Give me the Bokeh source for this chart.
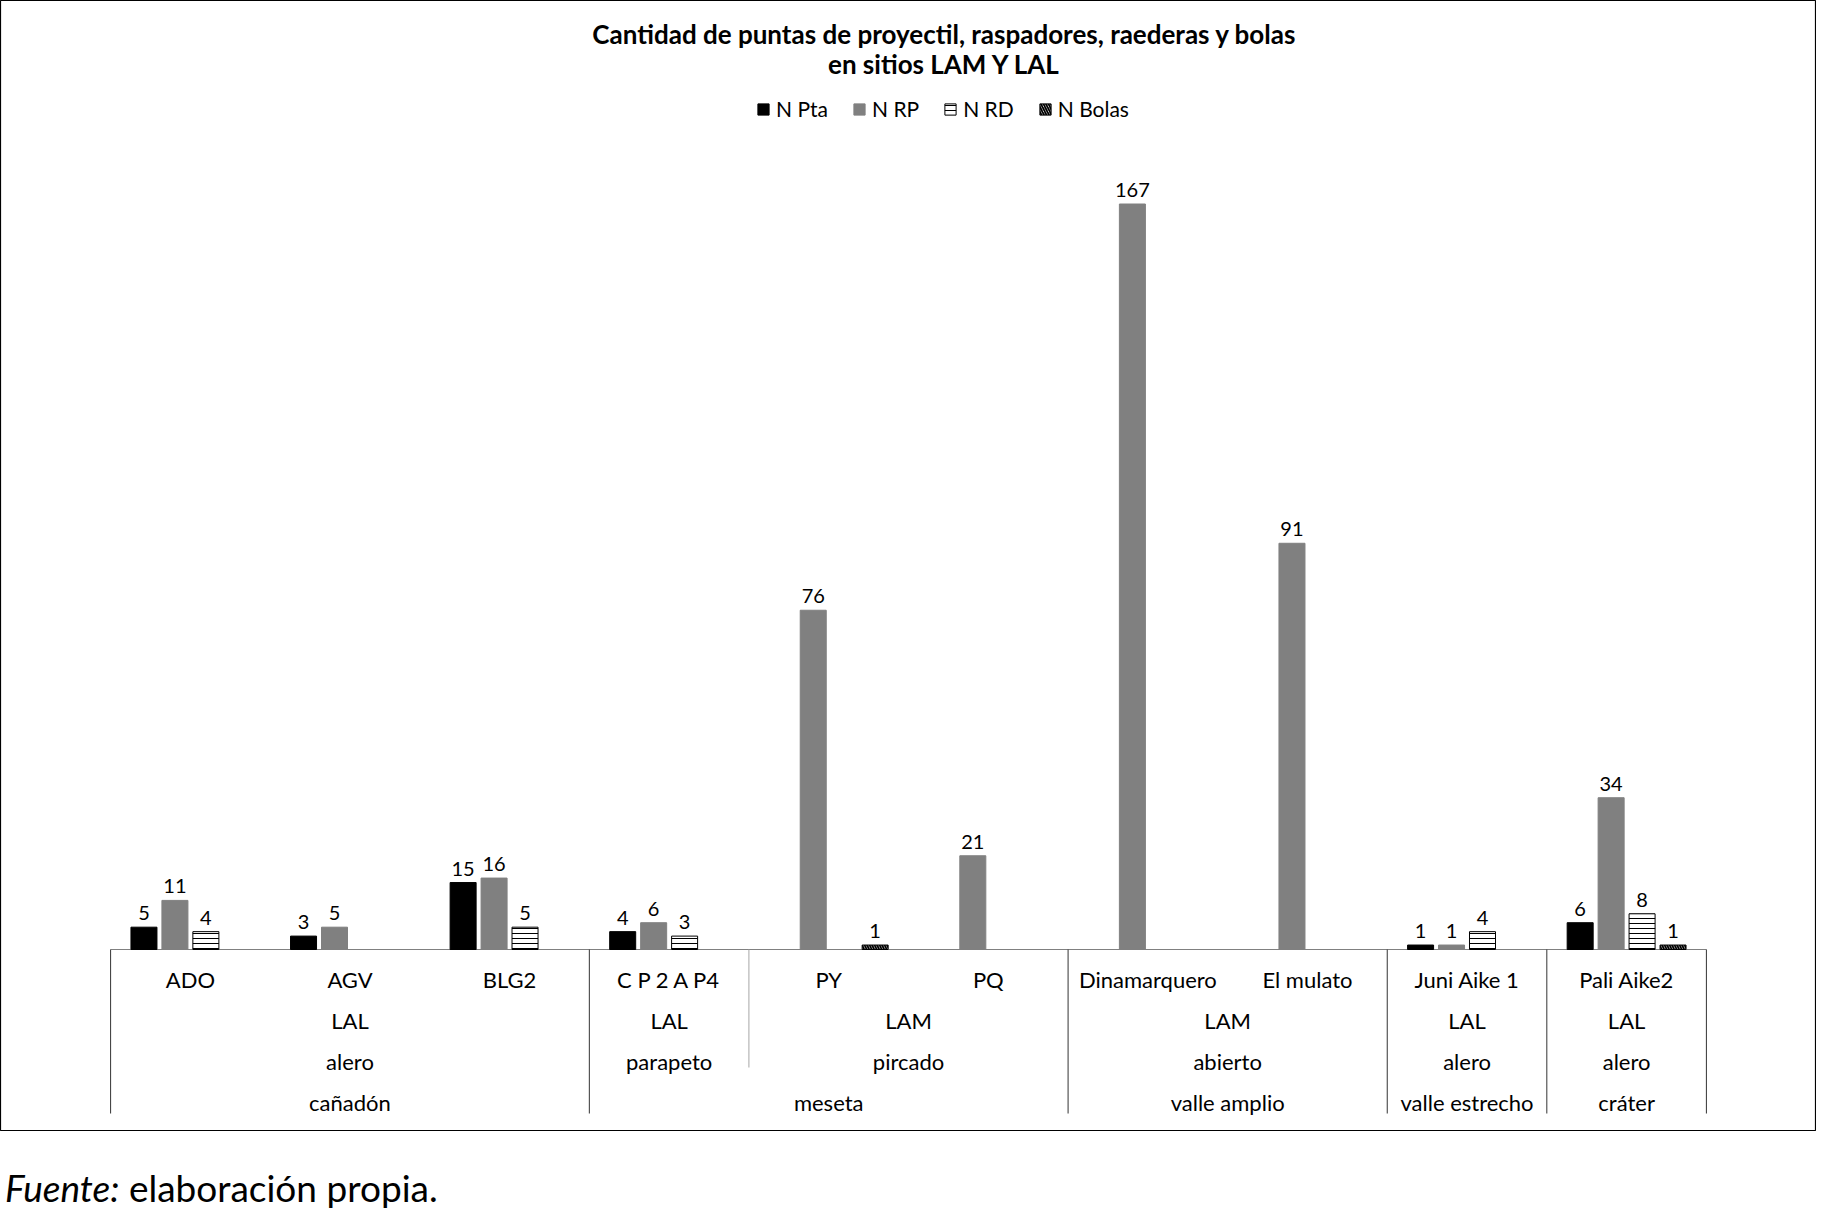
from bokeh.plotting import figure
from bokeh.models import ColumnDataSource, FactorRange, Range1d, Div
from bokeh.transform import dodge
from bokeh.layouts import column
from bokeh.embed import file_html
from bokeh.resources import INLINE
from bokeh.core.properties import value

# ---------------- data ----------------
TITLE_LINES = ["Cantidad de puntas de proyectil, raspadores, raederas y bolas",
               "en sitios LAM Y LAL"]
SITES = ["ADO", "AGV", "BLG2", "C P 2 A P4", "PY", "PQ",
         "Dinamarquero", "El mulato", "Juni Aike 1", "Pali Aike2"]
ZONA = ["LAL", "LAL", "LAL", "LAL", "LAM", "LAM", "LAM", "LAM", "LAL", "LAL"]
TIPO = ["alero", "alero", "alero", "parapeto", "pircado", "pircado",
        "abierto", "abierto", "alero", "alero"]
PAISAJE = ["cañadón", "cañadón", "cañadón", "meseta", "meseta", "meseta",
           "valle amplio", "valle amplio", "valle estrecho", "cráter"]
SERIES = ["N Pta", "N RP", "N RD", "N Bolas"]
N_PTA = [5, 3, 15, 4, 0, 0, 0, 0, 1, 6]
N_RP = [11, 5, 16, 6, 76, 21, 167, 91, 1, 34]
N_RD = [4, 0, 5, 3, 0, 0, 0, 0, 4, 8]
N_BOLAS = [0, 0, 0, 0, 1, 0, 0, 0, 0, 1]
NOTE_ITALIC = "Fuente:"
NOTE_TEXT = "elaboración propia."

# ---------------- layout ----------------
W, H = 1816, 1131
PAD = 0.69                 # category units of padding on each side
BASE_Y = 949               # canvas px of the zero line
PX_PER_UNIT = 4.464
FONT = "Lato"


def y_at(canvas_y):
    return (BASE_Y - canvas_y) / PX_PER_UNIT


def x_at(canvas_x):
    s = canvas_x / (W / (len(SITES) + 2 * PAD)) - PAD
    return (SITES[0], s - 0.5)


p = figure(width=W, height=H, output_backend="svg", toolbar_location=None,
           x_range=FactorRange(factors=SITES, range_padding=PAD,
                               range_padding_units="absolute", factor_padding=0),
           y_range=Range1d(y_at(H), y_at(0)),
           x_axis_location=None, y_axis_location=None, min_border=0)
p.grid.visible = False
p.outline_line_color = "black"
p.outline_line_width = 1.2
p.background_fill_color = "white"

# baseline
p.segment(x0=[(SITES[0], -0.5)], x1=[(SITES[-1], 0.5)], y0=[0], y1=[0],
          line_color="#808080", line_width=1.2)

# bars
OFFS = [-0.291, -0.097, 0.097, 0.291]
BAR_W = 0.163
STYLES = [
    dict(fill_color="black", line_color="black"),
    dict(fill_color="#808080", line_color="#808080"),
    dict(fill_color="white", line_color="black", line_width=1,
         hatch_pattern="horizontal_line", hatch_color="black",
         hatch_scale=5, hatch_weight=1),
    dict(fill_color="white", line_color="black", line_width=1,
         hatch_pattern="left_diagonal_line", hatch_color="black",
         hatch_scale=5, hatch_weight=1.8),
]
for name, vals, off, st in zip(SERIES, [N_PTA, N_RP, N_RD, N_BOLAS], OFFS, STYLES):
    keep = [i for i, v in enumerate(vals) if v > 0]
    src = ColumnDataSource(dict(site=[SITES[i] for i in keep],
                                val=[vals[i] for i in keep],
                                lab=[str(vals[i]) for i in keep]))
    xs = dodge("site", off, range=p.x_range)
    p.vbar(x=xs, top="val", width=BAR_W, source=src, legend_label=name, **st)
    p.text(x=xs, y="val", text="lab", source=src, y_offset=-7,
           text_align="center", text_baseline="bottom",
           text_font=value(FONT), text_font_size="20px", text_color="black")

# multi-level category axis
def runs(keys):
    out, start = [], 0
    for i in range(1, len(keys) + 1):
        if i == len(keys) or keys[i] != keys[start]:
            out.append((start, i - 1))
            start = i
    return out


def center(a, b):
    n = b - a
    if n % 2 == 0:
        return (SITES[a + n // 2], 0.0)
    return (SITES[a + n // 2], 0.5)


ROW_Y = [979, 1020, 1061, 1102]
lev2 = list(zip(PAISAJE, TIPO, ZONA))
lev3 = list(zip(PAISAJE, TIPO))
lab_x, lab_y, lab_t = [], [], []
for i, s in enumerate(SITES):
    lab_x.append((s, 0.0)); lab_y.append(y_at(ROW_Y[0])); lab_t.append(s)
for keys, names, row in [(lev2, ZONA, 1), (lev3, TIPO, 2), (PAISAJE, PAISAJE, 3)]:
    for a, b in runs(keys):
        lab_x.append(center(a, b)); lab_y.append(y_at(ROW_Y[row])); lab_t.append(names[a])
p.text(x=lab_x, y=lab_y, text=lab_t, text_align="center", text_baseline="middle",
       text_font=value(FONT), text_font_size="22px", text_color="black")

# dividers
major = [a for a, b in runs(PAISAJE)] + [len(SITES)]
minor = sorted({a for a, b in runs(lev2)} - set(major))


def edge(i):
    return (SITES[i], -0.5) if i < len(SITES) else (SITES[-1], 0.5)


p.segment(x0=[edge(i) for i in major], x1=[edge(i) for i in major],
          y0=[0] * len(major), y1=[y_at(1113)] * len(major),
          line_color="#333333", line_width=1)
p.segment(x0=[edge(i) for i in minor], x1=[edge(i) for i in minor],
          y0=[0] * len(minor), y1=[y_at(1067)] * len(minor),
          line_color="#a6a6a6", line_width=1)

# title
p.text(x=[x_at(944)] * 2, y=[y_at(33), y_at(63)], text=TITLE_LINES,
       text_align="center", text_baseline="middle", text_font=value(FONT),
       text_font_style="bold", text_font_size="26px", text_color="black")

# legend
lg = p.legend[0]
lg.orientation = "horizontal"
lg.location = (756, 1010)
lg.margin = 0
lg.padding = 0
lg.spacing = 24
lg.glyph_width = 14
lg.glyph_height = 14
lg.label_standoff = 6
lg.border_line_alpha = 0
lg.background_fill_alpha = 0
lg.label_text_font = FONT
lg.label_text_font_size = "21px"
lg.label_text_color = "black"

note = Div(text=f"<i>{NOTE_ITALIC}</i> {NOTE_TEXT}", width=W,
           styles={"font-family": FONT, "font-size": "37px", "color": "black",
                   "padding-top": "32px", "line-height": "1.1"})

layout = column(p, note, spacing=0)
open("out.html", "w").write(file_html(layout, INLINE))
